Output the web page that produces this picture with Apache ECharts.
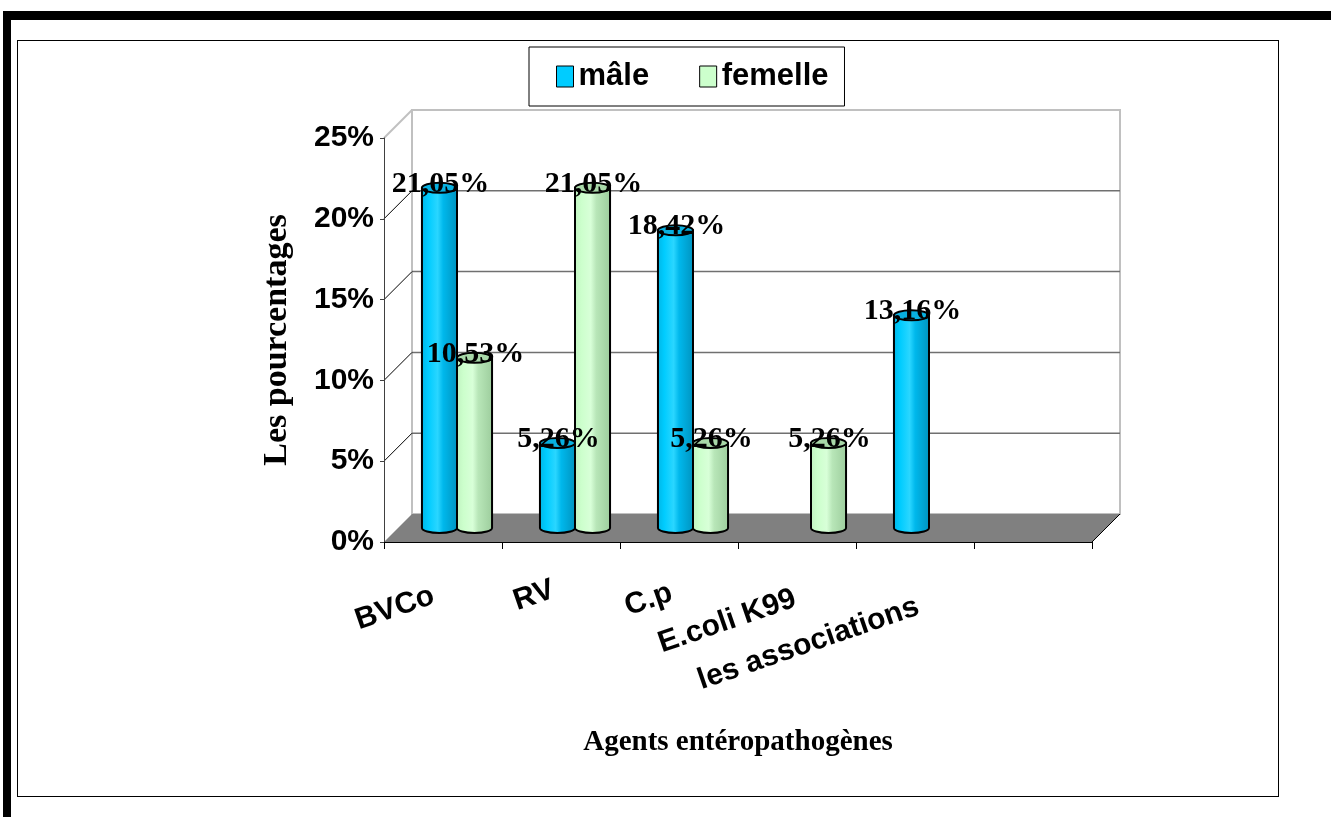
<!DOCTYPE html>
<html>
<head>
<meta charset="utf-8">
<title>Agents entéropathogènes selon le sexe</title>
<script src="https://cdn.jsdelivr.net/npm/echarts@6/dist/echarts.min.js"></script>
<style>
  html, body { margin: 0; padding: 0; background: #fff; overflow: hidden; }
  #frame { position: absolute; left: 3px; top: 11px; width: 1340px; height: 820px;
           border-top: 9px solid #000; border-left: 8px solid #000; box-sizing: border-box; }
  #panel { position: absolute; left: 17px; top: 40px; width: 1262px; height: 757px;
           border: 1px solid #000; box-sizing: border-box; background: #fff; }
  #chart { position: absolute; left: 0; top: 0; width: 1331px; height: 817px; }
</style>
</head>
<body>
<div id="frame"></div>
<div id="panel"></div>
<div id="chart"></div>
<script>
// Categories and values (percent)
const categories   = ['BVCo', 'RV', 'C.p', 'E.coli K99', 'les associations', ''];
const maleValues   = [21.05, 5.26, 18.42, 0, 13.16, null];
const femaleValues = [10.53, 21.05, 5.26, 5.26, 0, null];
const seriesNames  = ['mâle', 'femelle'];
const yTickValues  = [5, 10, 15, 20];

// Layout of the pseudo-3D box
const DEPTH_X = 28;
const DEPTH_Y = 28;
const BAR_RATIO = 0.297;   // width of one cylinder as a share of a category band
const CAP_RY = 5;          // vertical radius of the cylinder ellipses

// Staggered category labels: anchor (end of text) relative to the category centre on the axis line
const LABEL_ANGLE = 19;
const catLabelOffset = [[-9.5, 53], [-7.6, 47], [-7.6, 50], [-2, 56], [3, 64], [0, 53]];

const palette = {
  male:   { stops: ['#00B4E4', '#00CCFF', '#2AD6FF', '#00B8EC', '#0092BE'], cap: '#08B0E0', flat: '#00CCFF' },
  female: { stops: ['#C0F2C0', '#CCFFCC', '#D8FFD8', '#B8E6B8', '#9CCC9C'], cap: '#A8D8A8', flat: '#CCFFCC' }
};

const SANS = '"Liberation Sans", Arial, sans-serif';
const SERIF = '"Liberation Serif", "Times New Roman", serif';

function fmtPct(v) {
  return v.toFixed(2).replace('.', ',') + '%';
}

function renderFrame(params, api) {
  const cs = params.coordSys;
  const x0 = cs.x, x1 = cs.x + cs.width;
  const yTop = cs.y, yBot = cs.y + cs.height;
  const children = [];
  // left side wall
  children.push({
    type: 'polygon',
    shape: { points: [[x0, yTop], [x0 + DEPTH_X, yTop - DEPTH_Y], [x0 + DEPTH_X, yBot - DEPTH_Y], [x0, yBot]] },
    style: { fill: '#fff', stroke: null }
  });
  // back wall
  children.push({
    type: 'rect',
    shape: { x: x0 + DEPTH_X, y: yTop - DEPTH_Y, width: cs.width, height: cs.height },
    style: { fill: '#fff', stroke: '#c0c0c0', lineWidth: 2 }
  });
  // gridlines on the back wall and their connectors on the side wall
  yTickValues.forEach(function (t) {
    const yy = api.coord([0, t])[1];
    children.push({
      type: 'line',
      shape: { x1: x0 + DEPTH_X, y1: yy - DEPTH_Y, x2: x1 + DEPTH_X, y2: yy - DEPTH_Y },
      style: { stroke: '#707070', lineWidth: 1.5 }
    });
    children.push({
      type: 'line',
      shape: { x1: x0, y1: yy, x2: x0 + DEPTH_X, y2: yy - DEPTH_Y },
      style: { stroke: '#000', lineWidth: 1 }
    });
  });
  // top edge of the side wall
  children.push({
    type: 'line',
    shape: { x1: x0, y1: yTop, x2: x0 + DEPTH_X, y2: yTop - DEPTH_Y },
    style: { stroke: '#c0c0c0', lineWidth: 2 }
  });
  // floor
  children.push({
    type: 'polygon',
    shape: { points: [[x0, yBot], [x1, yBot], [x1 + DEPTH_X, yBot - DEPTH_Y], [x0 + DEPTH_X, yBot - DEPTH_Y]] },
    style: { fill: '#808080', stroke: null }
  });
  children.push({
    type: 'line',
    shape: { x1: x1, y1: yBot, x2: x1 + DEPTH_X, y2: yBot - DEPTH_Y },
    style: { stroke: '#000', lineWidth: 1 }
  });
  // category labels, tilted and staggered below the axis
  categories.forEach(function (name, i) {
    if (!name) return;
    const p = api.coord([i, 0]);
    const off = catLabelOffset[i];
    children.push({
      type: 'text',
      x: p[0] + off[0],
      y: yBot + off[1],
      rotation: LABEL_ANGLE * Math.PI / 180,
      z2: 50,
      style: {
        text: name,
        x: 0, y: 0,
        font: 'bold 30px ' + SANS,
        fill: '#000',
        align: 'right', verticalAlign: 'middle',
        textAlign: 'right', textVerticalAlign: 'middle'
      }
    });
  });
  return { type: 'group', children: children };
}

function makeCylinderRenderer(side, colors) {
  return function (params, api) {
    const i = api.value(0);
    const v = api.value(1);
    if (!v || isNaN(v)) return null;
    const band = api.size([1, 0])[0];
    const w = band * BAR_RATIO;
    const base = api.coord([i, 0]);
    const top = api.coord([i, v]);
    const cx = base[0] + DEPTH_X / 2 + side * w / 2;
    const yb = base[1] - DEPTH_Y / 2;
    const yt = top[1] - DEPTH_Y / 2;
    const rx = w / 2, ry = CAP_RY;
    const body = 'M' + (cx - rx) + ',' + yt + ' L' + (cx - rx) + ',' + yb +
      ' A' + rx + ',' + ry + ' 0 0 0 ' + (cx + rx) + ',' + yb +
      ' L' + (cx + rx) + ',' + yt + ' Z';
    const cap = 'M' + (cx - rx) + ',' + yt +
      ' A' + rx + ',' + ry + ' 0 1 0 ' + (cx + rx) + ',' + yt +
      ' A' + rx + ',' + ry + ' 0 1 0 ' + (cx - rx) + ',' + yt + ' Z';
    const s = colors.stops;
    return {
      type: 'group',
      children: [
        {
          type: 'path',
          shape: { pathData: body },
          style: {
            fill: {
              type: 'linear', x: 0, y: 0, x2: 1, y2: 0,
              colorStops: [
                { offset: 0, color: s[0] }, { offset: 0.2, color: s[1] },
                { offset: 0.45, color: s[2] }, { offset: 0.6, color: s[3] },
                { offset: 1, color: s[4] }
              ]
            },
            stroke: '#000', lineWidth: 2
          }
        },
        {
          type: 'path',
          shape: { pathData: cap },
          style: { fill: colors.cap, stroke: '#000', lineWidth: 2 }
        },
        {
          type: 'text',
          z2: 100,
          style: {
            text: fmtPct(v),
            x: cx + 1, y: yt - 4,
            font: 'bold 30px ' + SERIF,
            fill: '#000',
            align: 'center', verticalAlign: 'middle',
            textAlign: 'center', textVerticalAlign: 'middle'
          }
        }
      ]
    };
  };
}

const chart = echarts.init(document.getElementById('chart'), null, { renderer: 'canvas' });

chart.setOption({
  animation: false,
  backgroundColor: 'transparent',
  legend: {
    left: 529, top: 47,
    padding: [14, 16, 14, 27],
    itemGap: 50,
    itemWidth: 17, itemHeight: 21,
    icon: 'rect',
    backgroundColor: '#fff',
    borderColor: '#000', borderWidth: 1,
    textStyle: { fontFamily: SANS, fontWeight: 'bold', fontSize: 31, color: '#000' },
    data: [
      { name: seriesNames[0], itemStyle: { color: palette.male.flat, borderColor: '#000', borderWidth: 1 } },
      { name: seriesNames[1], itemStyle: { color: palette.female.flat, borderColor: '#000', borderWidth: 1 } }
    ]
  },
  grid: { left: 384, top: 138, width: 708, height: 404, outerBoundsMode: 'none', containLabel: false },
  xAxis: {
    type: 'category',
    z: 3,
    data: categories,
    boundaryGap: true,
    axisLine: { show: true, lineStyle: { color: '#000', width: 1 } },
    axisTick: { show: true, length: 7, interval: 0, lineStyle: { color: '#000' } },
    axisLabel: { show: false },
    splitLine: { show: false },
    name: 'Agents entéropathogènes',
    nameLocation: 'middle',
    nameGap: 186,
    nameTextStyle: { fontFamily: SERIF, fontWeight: 'bold', fontSize: 29, color: '#000' }
  },
  yAxis: {
    type: 'value',
    z: 3,
    min: 0, max: 25, interval: 5,
    axisLine: { show: true, lineStyle: { color: '#404040', width: 1 } },
    axisTick: { show: true, length: 4, lineStyle: { color: '#404040' } },
    splitLine: { show: false },
    axisLabel: {
      formatter: '{value}%', margin: 10,
      fontFamily: SANS, fontWeight: 'bold', fontSize: 30, color: '#000'
    },
    name: 'Les pourcentages',
    nameLocation: 'middle',
    nameRotate: 90,
    nameGap: 90,
    nameTextStyle: { fontFamily: SERIF, fontWeight: 'bold', fontSize: 34, color: '#000' }
  },
  series: [
    {
      type: 'custom',
      name: 'cadre',
      z: 1,
      silent: true,
      clip: false,
      renderItem: renderFrame,
      encode: { x: 0, y: 1 },
      data: [[0, 0]]
    },
    {
      type: 'custom',
      name: seriesNames[0],
      z: 2,
      clip: false,
      itemStyle: { color: palette.male.flat },
      renderItem: makeCylinderRenderer(-1, palette.male),
      encode: { x: 0, y: 1 },
      data: maleValues.map(function (v, i) { return [i, v]; })
    },
    {
      type: 'custom',
      name: seriesNames[1],
      z: 2,
      clip: false,
      itemStyle: { color: palette.female.flat },
      renderItem: makeCylinderRenderer(1, palette.female),
      encode: { x: 0, y: 1 },
      data: femaleValues.map(function (v, i) { return [i, v]; })
    }
  ]
});
</script>
</body>
</html>
